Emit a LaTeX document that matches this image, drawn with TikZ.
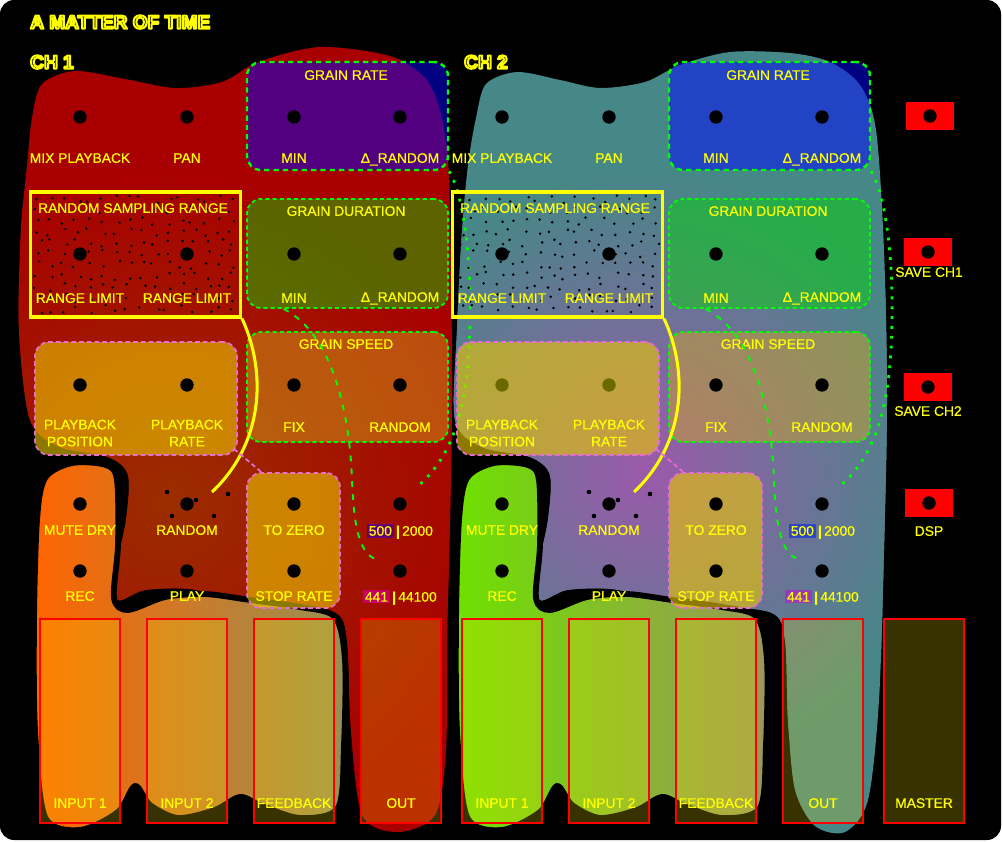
\documentclass[tikz,border=0pt]{standalone}
\usepackage{fontspec}
\setmainfont{Liberation Sans}
\newfontfamily\labfont{Liberation Sans}[FakeBold=0.7]
\definecolor{ylw}{RGB}{255,255,0}
\definecolor{grn}{RGB}{0,255,0}
\definecolor{pnk}{RGB}{230,110,210}
\definecolor{dred}{RGB}{168,0,0}
\definecolor{oredd}{RGB}{155,45,0}
\definecolor{tealA}{RGB}{70,135,135}
\definecolor{purp}{RGB}{155,90,170}
\definecolor{org}{RGB}{255,100,0}
\definecolor{olv}{RGB}{150,145,85}
\definecolor{lgrn}{RGB}{110,225,0}
\definecolor{olvB}{RGB}{155,150,90}
\definecolor{faderfill}{RGB}{255,230,0}
\definecolor{btnred}{RGB}{255,0,0}
\definecolor{bgA}{RGB}{100,0,115}
\definecolor{bgB}{RGB}{200,0,100}
\definecolor{bgC}{RGB}{45,70,200}
\definecolor{bgD}{RGB}{150,60,180}
\definecolor{knobolive}{RGB}{105,105,0}
\definecolor{rateblue}{RGB}{0,0,255}
\definecolor{durgreen}{RGB}{0,220,0}
\definecolor{spdfill}{RGB}{215,170,30}
\definecolor{pbfill}{RGB}{235,200,0}
\newcommand{\outlinetext}[1]{\leavevmode\color{black}%
 \special{pdf:literal 2 Tr 1 1 0 RG 1.7 w 1 j}#1\special{pdf:literal 0 Tr}}
\setlength{\fboxsep}{1.5pt}
\begin{document}
\begin{tikzpicture}[x=0.03cm,y=-0.03cm,
  knob/.style={circle, fill=black, inner sep=0pt, minimum size=0.4cm},
  lab/.style={text=ylw, font=\labfont\fontsize{11.8}{14.5}\selectfont, inner sep=0pt, align=center, text depth=0pt},
  ttl/.style={font=\fontsize{16.3}{18}\selectfont\bfseries, inner sep=0pt, anchor=west, text depth=0pt},
  gratebox/.style={draw=grn, line width=2.1pt, dash pattern=on 4.5pt off 3.5pt, rounded corners=12pt, fill=rateblue, fill opacity=0.5, minimum width=6.03cm, minimum height=3.24cm, inner sep=0pt},
  gdurbox/.style={draw=grn, line width=1.5pt, dash pattern=on 3.5pt off 2.6pt, rounded corners=12pt, fill=durgreen, fill opacity=0.45, minimum width=6.03cm, minimum height=3.27cm, inner sep=0pt},
  gspdbox/.style={draw=grn, line width=1.5pt, dash pattern=on 3.5pt off 2.6pt, rounded corners=12pt, fill=spdfill, fill opacity=0.45, minimum width=6.03cm, minimum height=3.3cm, inner sep=0pt},
  pbox/.style={draw=pnk, line width=1.5pt, dash pattern=on 4pt off 2.6pt, rounded corners=12pt, fill=pbfill, fill opacity=0.6, inner sep=0pt},
  rsrbox/.style={draw=ylw, line width=2.6pt, minimum width=6.3cm, minimum height=3.75cm, inner sep=0pt},
  fader/.style={draw=btnred, line width=2.2pt, fill=faderfill, fill opacity=0.22, minimum width=2.4cm, minimum height=6.12cm, inner sep=0pt},
  btn/.style={fill=btnred, minimum width=1.45cm, minimum height=0.82cm, inner sep=0pt},
  yline/.style={draw=ylw, line width=2.6pt},
  pline/.style={draw=pnk, line width=1.5pt, dash pattern=on 4pt off 2.6pt},
  gdash/.style={draw=grn, line width=1.6pt, dash pattern=on 5pt off 6pt},
  gdot/.style={draw=grn, line width=2.4pt, dash pattern=on 2.4pt off 6pt}
]
\useasboundingbox (0,0) rectangle (1003,842);
\fill[white] (0,0) rectangle (1003,842);
\fill[black, rounded corners=12pt] (0,0) rectangle (1001,840);

% ---------- CH1 red blob
\begin{scope}
\clip plot[smooth cycle] coordinates {(32,118) (42,84) (75,71) (125,79) (175,88) (222,82) (258,62) (320,47) (390,56) (425,78) (440,110) (448,160) (451,260) (452,400) (450,520) (447,640) (446,750) (435,815) (397,832) (362,815) (351,730) (347,640) (336,613) (290,605) (240,600) (190,589) (145,590) (118,600) (116,570) (126,520) (128,475) (108,457) (60,447) (30,420) (19,330) (21,230) (27,165)};
\fill[dred] (0,0) rectangle (1003,842);
\shade[inner color=oredd, outer color=dred] (170,500) circle (330);
\end{scope}
% CH1 orange blob
\shade[left color=org, right color=olv, draw=black, line width=5pt] plot[smooth cycle] coordinates {(37,520) (45,478) (72,463) (106,465) (117,480) (118,545) (114,598) (128,610) (165,597) (205,594) (250,600) (300,607) (335,617) (345,660) (344,745) (338,808) (300,818) (262,806) (240,797) (215,810) (178,818) (150,805) (135,786) (118,812) (80,830) (45,817) (35,730) (34,620)};

% ---------- CH2 teal blob
\begin{scope}
\clip plot[smooth cycle] coordinates {(476,118) (486,84) (517,72) (560,80) (600,88) (645,82) (680,65) (730,52) (790,53) (830,62) (860,85) (876,130) (884,250) (887,400) (884,550) (879,700) (868,800) (845,832) (815,826) (795,790) (788,720) (785,640) (772,613) (712,605) (662,600) (612,589) (567,590) (540,600) (538,570) (548,520) (550,475) (530,457) (482,447) (455,420) (457,330) (462,230) (468,165)};
\fill[tealA] (0,0) rectangle (1003,842);
\shade[inner color=purp, outer color=tealA] (645,470) circle (300);
\end{scope}
% CH2 green blob
\shade[left color=lgrn, right color=olvB, draw=black, line width=5pt] plot[smooth cycle] coordinates {(459,520) (467,478) (494,463) (528,465) (539,480) (540,545) (536,598) (550,610) (587,597) (627,594) (672,600) (722,607) (757,617) (767,660) (766,745) (760,808) (722,818) (684,806) (662,797) (637,810) (600,818) (572,805) (557,786) (540,812) (502,830) (467,817) (457,730) (456,620)};

% ---------- titles
\node[ttl] (title) at (30,22) {\outlinetext{A MATTER OF TIME}};
\node[ttl] (ch1) at (30,62) {\outlinetext{CH 1}};
\node[ttl] (ch2) at (464,62) {\outlinetext{CH 2}};

% ---------- channel contents
\foreach \c/\o/\ca/\cb/\kp in {1/0/bgA/bgB/black, 2/422/bgC/bgD/knobolive}{
  % boxes
  \node[gratebox] (grate\c) at (347.5+\o,116) {};
  \node[gdurbox] (gdur\c) at (347.5+\o,253.5) {};
  \node[gspdbox] (gspd\c) at (347.5+\o,387) {};
  \node[pbox, minimum width=6.06cm, minimum height=3.39cm] (pb\c) at (136+\o,398.5) {};
  \node[pbox, minimum width=2.79cm, minimum height=4.05cm] (tz\c) at (293.5+\o,540.5) {};
  % faders
  \node[fader] (fin1\c) at (80+\o,721) {};
  \node[fader] (fin2\c) at (187+\o,721) {};
  \node[fader] (ffb\c) at (294+\o,721) {};
  \node[fader] (fout\c) at (401+\o,721) {};
  % random sampling range box with dots (jittered grid)
  \node[rsrbox] (rsr\c) at (135.5+\o,254.5) {};
  \pgfmathsetseed{17\c}
  \foreach \gx in {0,...,15}{
    \foreach \gy in {0,...,10}{
      \fill[black] (38+\o+\gx*13+rand*4.5, 199+\gy*11+rand*4) circle (1.4);
    }
  }
  % knobs
  \node[knob] (kmix\c) at (80+\o,117) {};
  \node[knob] (kpan\c) at (187+\o,117) {};
  \node[knob] (krmin\c) at (294+\o,117) {};
  \node[knob] (krrnd\c) at (400+\o,117) {};
  \node[knob] (krl1\c) at (80+\o,254) {};
  \node[knob] (krl2\c) at (187+\o,254) {};
  \node[knob] (kdmin\c) at (294+\o,254) {};
  \node[knob] (kdrnd\c) at (400+\o,254) {};
  \node[knob, fill=\kp] (kpp\c) at (80+\o,385) {};
  \node[knob, fill=\kp] (kpr\c) at (187+\o,385) {};
  \node[knob] (ksfix\c) at (294+\o,385) {};
  \node[knob] (ksrnd\c) at (400+\o,385) {};
  \node[knob] (kmute\c) at (80+\o,504) {};
  \node[knob] (krand\c) at (187+\o,504) {};
  \node[knob] (kzero\c) at (294+\o,504) {};
  \node[knob] (kfive\c) at (400+\o,504) {};
  \node[knob] (krec\c) at (80+\o,571) {};
  \node[knob] (kplay\c) at (187+\o,571) {};
  \node[knob] (kstop\c) at (294+\o,571) {};
  \node[knob] (ksr\c) at (400+\o,571) {};
  % small dots round RANDOM
  \foreach \dx/\dy in {167/492, 196/500, 172/516, 214/516, 228/494}{
    \fill[black] (\dx+\o,\dy) circle (2.3);
  }
  % labels
  \node[lab] (lmix\c) at (80+\o,158) {MIX PLAYBACK};
  \node[lab] (lpan\c) at (187+\o,158) {PAN};
  \node[lab] (lrmin\c) at (294+\o,158) {MIN};
  \node[lab] (lrrnd\c) at (400+\o,158) {Δ\_RANDOM};
  \node[lab] (lgr\c) at (346+\o,75) {GRAIN RATE};
  \node[lab] (lrsr\c) at (133+\o,208) {RANDOM SAMPLING RANGE};
  \node[lab] (lrl1\c) at (80+\o,298) {RANGE LIMIT};
  \node[lab] (lrl2\c) at (187+\o,298) {RANGE LIMIT};
  \node[lab] (lgd\c) at (346+\o,211) {GRAIN DURATION};
  \node[lab] (ldmin\c) at (294+\o,298) {MIN};
  \node[lab] (ldrnd\c) at (400+\o,297) {Δ\_RANDOM};
  \node[lab] (lgs\c) at (346+\o,344) {GRAIN SPEED};
  \node[lab] (lpp\c) at (80+\o,433) {PLAYBACK\\POSITION};
  \node[lab] (lpr\c) at (187+\o,433) {PLAYBACK\\RATE};
  \node[lab] (lfix\c) at (294+\o,427) {FIX};
  \node[lab] (lsrnd\c) at (400+\o,427) {RANDOM};
  \node[lab] (lmute\c) at (80+\o,530) {MUTE DRY};
  \node[lab] (lrand\c) at (187+\o,530) {RANDOM};
  \node[lab] (lzero\c) at (294+\o,530) {TO ZERO};
  \node[lab] (lfive\c) at (400+\o,530) {\colorbox{\ca}{500}\,\textbf{|}\,2000};
  \node[lab] (lrec\c) at (80+\o,596) {REC};
  \node[lab] (lplay\c) at (187+\o,596) {PLAY};
  \node[lab] (lstop\c) at (294+\o,596) {STOP RATE};
  \node[lab] (lsr\c) at (400+\o,596) {\colorbox{\cb}{441}\,\textbf{|}\,44100};
  \node[lab] (lin1\c) at (80+\o,803) {INPUT 1};
  \node[lab] (lin2\c) at (187+\o,803) {INPUT 2};
  \node[lab] (lfb\c) at (294+\o,803) {FEEDBACK};
  \node[lab] (lout\c) at (401+\o,803) {OUT};
  % connectors
  \coordinate (yend\c) at (212+\o,492);
  \draw[yline] (rsr\c.south east) .. controls (268+\o,375) and (262+\o,445) .. (yend\c);
  \draw[pline] ([shift={(-3.4pt,6pt)}]pb\c.south east) -- ([xshift=13pt]tz\c.north west);
  \coordinate (ge\c) at (378+\o,560);
  \draw[gdash] ([xshift=32pt]gdur\c.south west) .. controls (335+\o,335) and (350+\o,420) .. (352+\o,480) .. controls (354+\o,530) and (360+\o,555) .. (ge\c);
  \coordinate (gd\c) at (418+\o,486);
  \draw[gdot] (grate\c.south east) .. controls (466+\o,200) and (471+\o,270) .. (470+\o,320) .. controls (469+\o,390) and (460+\o,450) .. (gd\c);
}

% ---------- master section
\node[fader] (fmaster) at (924,721) {};
\node[lab] (lmaster) at (924,803) {MASTER};
\node[btn] (b1) at (930,116) {};
\node[knob] (kb1) at (930,116) {};
\node[btn] (b2) at (928,252) {};
\node[knob] (kb2) at (928,252) {};
\node[lab] (lb2) at (929,272) {SAVE CH1};
\node[btn] (b3) at (928,387) {};
\node[knob] (kb3) at (928,387) {};
\node[lab] (lb3) at (928,411) {SAVE CH2};
\node[btn] (b4) at (929,503) {};
\node[knob] (kb4) at (929,503) {};
\node[lab] (lb4) at (929,531) {DSP};
\end{tikzpicture}
\end{document}
